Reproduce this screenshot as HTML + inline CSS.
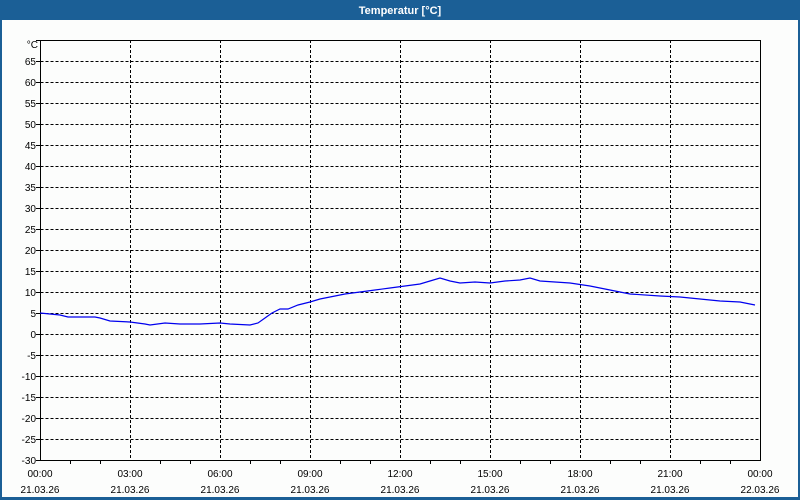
<!DOCTYPE html>
<html><head><meta charset="utf-8"><style>
body{margin:0;width:800px;height:500px;overflow:hidden;background:#fff;font-family:"Liberation Sans",sans-serif}
svg{display:block}
</style></head><body>
<svg width="800" height="500" xmlns="http://www.w3.org/2000/svg" font-family="Liberation Sans, sans-serif" font-size="10">
<rect x="0" y="0" width="800" height="500" fill="#1b5f96"/>
<rect x="2" y="20" width="796" height="477" fill="#fcfdfc"/>
<text x="400" y="14" text-anchor="middle" fill="#fff" font-weight="bold" font-size="11">Temperatur [°C]</text>
<g stroke="#000" stroke-dasharray="3,2" stroke-width="1" fill="none">
<path d="M40.5 61.5H760M40.5 82.5H760M40.5 103.5H760M40.5 124.5H760M40.5 145.5H760M40.5 166.5H760M40.5 187.5H760M40.5 208.5H760M40.5 229.5H760M40.5 250.5H760M40.5 271.5H760M40.5 292.5H760M40.5 313.5H760M40.5 334.5H760M40.5 355.5H760M40.5 376.5H760M40.5 397.5H760M40.5 418.5H760M40.5 439.5H760"/>
<path d="M130.5 40V460M220.5 40V460M310.5 40V460M400.5 40V460M490.5 40V460M580.5 40V460M670.5 40V460"/>
</g>
<g stroke="#000" stroke-width="1" fill="none">
<rect x="40.5" y="40.5" width="720" height="420"/>
<path d="M36 40.5H40M36 61.5H40M36 82.5H40M36 103.5H40M36 124.5H40M36 145.5H40M36 166.5H40M36 187.5H40M36 208.5H40M36 229.5H40M36 250.5H40M36 271.5H40M36 292.5H40M36 313.5H40M36 334.5H40M36 355.5H40M36 376.5H40M36 397.5H40M36 418.5H40M36 439.5H40M36 460.5H40"/>
<path d="M70.5 460V464M100.5 460V464M160.5 460V464M190.5 460V464M250.5 460V464M280.5 460V464M340.5 460V464M370.5 460V464M430.5 460V464M460.5 460V464M520.5 460V464M550.5 460V464M610.5 460V464M640.5 460V464M700.5 460V464M730.5 460V464"/>
</g>
<g text-anchor="end" fill="#000">
<text x="38" y="48">°C</text>
<text x="36" y="65">65</text><text x="36" y="86">60</text><text x="36" y="107">55</text><text x="36" y="128">50</text><text x="36" y="149">45</text><text x="36" y="170">40</text><text x="36" y="191">35</text><text x="36" y="212">30</text><text x="36" y="233">25</text><text x="36" y="254">20</text><text x="36" y="275">15</text><text x="36" y="296">10</text><text x="36" y="317">5</text><text x="36" y="338">0</text><text x="36" y="359">-5</text><text x="36" y="380">-10</text><text x="36" y="401">-15</text><text x="36" y="422">-20</text><text x="36" y="443">-25</text><text x="36" y="464">-30</text>
</g>
<g text-anchor="middle" fill="#000">
<text x="40" y="477">00:00</text><text x="40" y="493">21.03.26</text>
<text x="130" y="477">03:00</text><text x="130" y="493">21.03.26</text>
<text x="220" y="477">06:00</text><text x="220" y="493">21.03.26</text>
<text x="310" y="477">09:00</text><text x="310" y="493">21.03.26</text>
<text x="400" y="477">12:00</text><text x="400" y="493">21.03.26</text>
<text x="490" y="477">15:00</text><text x="490" y="493">21.03.26</text>
<text x="580" y="477">18:00</text><text x="580" y="493">21.03.26</text>
<text x="670" y="477">21:00</text><text x="670" y="493">21.03.26</text>
<text x="760" y="477">00:00</text><text x="760" y="493">22.03.26</text>
</g>
<polyline fill="none" stroke="#0000ee" stroke-width="1.2" points="40,313 60,315 68,317 95,317 100,318 110,321 130,322 145,324 150,325 165,323 180,324 200,324 220,323 230,324 250,325 258,323 265,318 272,313 280,309 288,309 298,305 310,302 320,299 330,297 345,294 360,292 375,290 390,288 405,286 420,284 430,281 440,278 450,281 460,283 475,282 490,283 505,281 520,280 530,278 540,281 555,282 570,283 590,286 610,290 630,294 660,296 680,297 700,299 720,301 740,302 755,305"/>
</svg>
</body></html>
